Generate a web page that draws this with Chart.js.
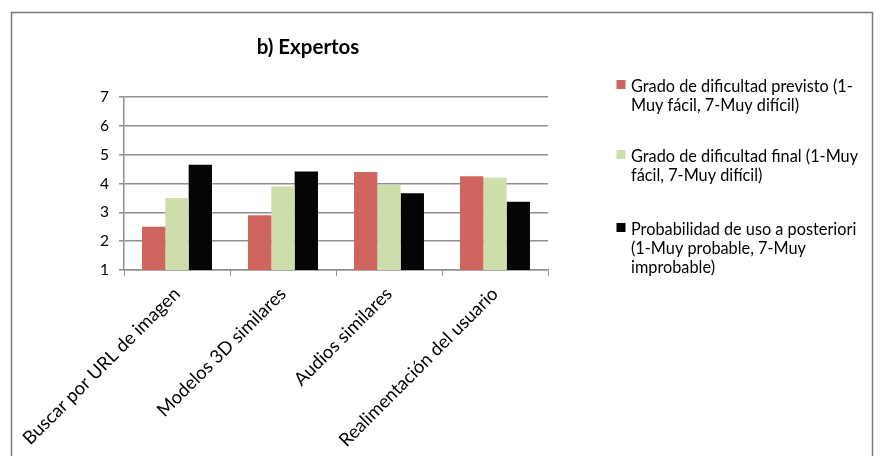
<!DOCTYPE html>
<html>
<head>
<meta charset="utf-8">
<script src="https://cdn.jsdelivr.net/npm/chart.js@4.4.1/dist/chart.umd.min.js"></script>
<style>
  html, body { margin: 0; padding: 0; background: #ffffff; }
  #wrap { width: 880px; height: 456px; position: relative; }
</style>
</head>
<body>
<div id="wrap"><canvas id="c" width="880" height="456"></canvas></div>
<script>
const chartTitle = "b) Expertos";
const categories = ["Buscar por URL de imagen", "Modelos 3D similares", "Audios similares", "Realimentación del usuario"];
const previsto = [2.5, 2.9, 4.4, 4.25];
const final = [3.5, 3.9, 3.95, 4.2];
const posterior = [4.65, 4.42, 3.66, 3.37];
const seriesLegendLines = [
  ["Grado de dificultad previsto (1-", "Muy fácil, 7-Muy difícil)"],
  ["Grado de dificultad final (1-Muy", "fácil, 7-Muy difícil)"],
  ["Probabilidad de uso a posteriori", "(1-Muy probable, 7-Muy", "improbable)"]
];
const seriesColors = ["#D0655F", "#CDDDAC", "#050505"];
const yTicks = [1, 2, 3, 4, 5, 6, 7];

const FONT = "Lato, 'Open Sans', sans-serif";
const AXIS_GRAY = "#909090";

const decorPlugin = {
  id: 'decor',
  beforeDraw(chart) {
    const ctx = chart.ctx;
    ctx.save();
    ctx.fillStyle = '#ffffff';
    ctx.fillRect(0, 0, chart.width, chart.height);
    ctx.strokeStyle = '#7a7a7a';
    ctx.lineWidth = 1.5;
    ctx.strokeRect(11.5, 12.5, 861, 470);
    ctx.restore();
  },
  afterDraw(chart) {
    const ctx = chart.ctx;
    ctx.save();
    // title
    ctx.font = "bold 20.5px " + FONT;
    ctx.fillStyle = '#000000';
    ctx.textAlign = 'center';
    ctx.textBaseline = 'middle';
    ctx.fillText(chartTitle, 308, 47);
    // legend
    ctx.font = "16.3px " + FONT;
    ctx.textAlign = 'left';
    const itemTops = [87, 157, 230];
    const lineH = 18.8;
    chart.data.datasets.forEach((ds, i) => {
      const lines = seriesLegendLines[i];
      const y0 = itemTops[i];
      ctx.fillStyle = ds.backgroundColor;
      ctx.fillRect(616.5, y0 - 7, 9, 9);
      ctx.fillStyle = '#000000';
      lines.forEach((ln, j) => ctx.fillText(ln, 631, y0 + j * lineH));
    });
    ctx.restore();
  }
};

new Chart(document.getElementById('c'), {
  type: 'bar',
  data: {
    labels: categories,
    datasets: [
      { label: seriesLegendLines[0].join(''), data: previsto, backgroundColor: seriesColors[0] },
      { label: seriesLegendLines[1].join(' '), data: final, backgroundColor: seriesColors[1] },
      { label: seriesLegendLines[2].join(' '), data: posterior, backgroundColor: seriesColors[2] }
    ]
  },
  options: {
    responsive: false,
    animation: false,
    devicePixelRatio: 1,
    layout: { padding: { top: 97, right: 332, bottom: 0, left: 0 } },
    datasets: { bar: { categoryPercentage: 0.66, barPercentage: 1.0, borderWidth: 0 } },
    plugins: {
      legend: { display: false },
      title: { display: false },
      tooltip: { enabled: false }
    },
    scales: {
      x: {
        offset: true,
        grid: { display: true, drawOnChartArea: false, drawTicks: true, tickLength: 6, color: AXIS_GRAY, offset: true },
        border: { display: true, color: AXIS_GRAY, width: 1.5 },
        ticks: {
          color: '#000000', font: { family: FONT, size: 18.4 },
          minRotation: 45, maxRotation: 45, padding: 7
        },
        afterFit(scale) { scale.height = 456 - 270; }
      },
      y: {
        min: 1, max: 7,
        afterBuildTicks(scale) { scale.ticks = yTicks.map(v => ({ value: v })); },
        grid: { color: AXIS_GRAY, lineWidth: 1.5, drawTicks: true, tickLength: 5 },
        border: { display: true, color: AXIS_GRAY, width: 1.5 },
        ticks: { color: '#000000', font: { family: FONT, size: 15.5 }, padding: 10 },
        afterFit(scale) { scale.width = 124; }
      }
    }
  },
  plugins: [decorPlugin]
});
</script>
</body>
</html>
